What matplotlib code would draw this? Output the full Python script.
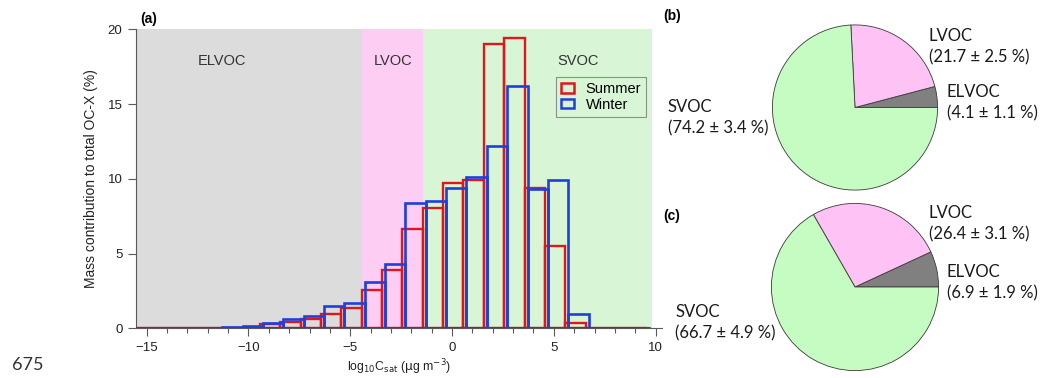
import numpy as np
import matplotlib.pyplot as plt
from matplotlib.patches import Patch

plt.rcParams['font.family'] = ['Liberation Sans', 'DejaVu Sans']

# volatility bins (log10 Csat), one value per bin of width 1
bin_index = np.arange(-16, 10)
summer_offset = 0.06
winter_offset = 0.21
summer_frac = [0, 0, 0, 0, 0, 0, 0.05, 0.27, 0.40, 0.60, 0.95, 1.38, 2.58,
               3.93, 6.62, 8.03, 9.72, 9.94, 19.04, 19.42, 9.39, 5.50, 0.38,
               0, 0, 0]
winter_frac = [0, 0, 0, 0, 0, 0.10, 0.15, 0.35, 0.60, 0.81, 1.46, 1.66, 3.13,
               4.33, 8.36, 8.49, 9.36, 10.10, 12.17, 16.19, 9.32, 9.90, 0.94,
               0, 0, 0]

# volatility class ranges
class_names = ['ELVOC', 'LVOC', 'SVOC']
class_bounds = [-15.6, -4.42, -1.42, 9.84]
class_colors = ['#dcdcdc', '#fdcdf3', '#d8f6d6']
class_label_x = [-11.3, -2.92, 6.2]

# pie fractions (ELVOC, LVOC, SVOC)
pie_names = ['ELVOC', 'LVOC', 'SVOC']
summer_pie = [4.1, 21.7, 74.2]
summer_err = [1.1, 2.5, 3.4]
winter_pie = [6.9, 26.4, 66.7]
winter_err = [1.9, 3.1, 4.9]
pie_colors = ['#808080', '#ffc2f4', '#c4fcc2']

red = '#e0161b'
blue = '#1f3fdc'

W, H = 1043, 378
fig = plt.figure(figsize=(W / 100, H / 100), dpi=100)

axis_gray = '#5a5a5a'
ax = fig.add_axes([135.7 / W, 49.7 / H, 526 / W, 299 / H])
for i, name in enumerate(class_names):
    ax.axvspan(class_bounds[i], class_bounds[i + 1], color=class_colors[i], lw=0, zorder=0)

ax.bar(bin_index + summer_offset, summer_frac, width=1.0, fill=False,
       edgecolor=red, linewidth=1.7, zorder=2)
ax.bar(bin_index + winter_offset, winter_frac, width=1.0, fill=False,
       edgecolor=blue, linewidth=1.9, zorder=3)
# empty bins still show their bottom edge
winter_left = bin_index[0] + winter_offset - 0.5
winter_right = bin_index[-1] + winter_offset + 0.5
ax.hlines(0, winter_left, winter_right, color=blue, lw=2.2, zorder=3, clip_on=True)

ax.set_xlim(-15.54, 10.3)
ax.set_ylim(0, 20)
ax.set_xticks([-15, -10, -5, 0, 5, 10])
ax.set_xticks(np.arange(-15, 11), minor=True)
ax.set_yticks([0, 5, 10, 15, 20])
for s in ['top', 'right']:
    ax.spines[s].set_visible(False)
for s in ['left', 'bottom']:
    ax.spines[s].set_color(axis_gray)
    ax.spines[s].set_linewidth(0.8)
ax.tick_params(axis='both', which='major', length=6, width=0.8, color=axis_gray,
               labelsize=9.5, labelcolor='#222222', direction='out')
ax.tick_params(axis='x', which='minor', length=3.5, width=0.8, color=axis_gray)
ax.tick_params(axis='x', which='major', pad=4)
ax.set_ylabel('Mass contribution to total OC-X (%)', fontsize=10, color='#222222', labelpad=7)
ax.set_xlabel(r'log$_{10}$C$_{\mathrm{sat}}$ ($\mathrm{\mu}$g m$^{-3}$)', fontsize=8.8,
              color='#222222', labelpad=2)

for name, xc in zip(class_names, class_label_x):
    ax.text(xc, 17.9, name, ha='center', va='center', fontsize=10.5, color='#333333')
ax.text(0.008, 1.01, '(a)', transform=ax.transAxes, fontsize=10, fontweight='bold',
        ha='left', va='bottom')

handles = [Patch(facecolor='none', edgecolor=red, lw=1.8, label='Summer'),
           Patch(facecolor='none', edgecolor=blue, lw=1.8, label='Winter')]
leg = ax.legend(handles=handles, loc='upper left', bbox_to_anchor=(0.785, 0.865),
                fontsize=10.5, frameon=True, fancybox=False, handlelength=0.9,
                handleheight=0.6, handletextpad=0.8, borderpad=0.35, labelspacing=0.1)
leg.get_frame().set_edgecolor('#777777')
leg.get_frame().set_facecolor('none')
leg.get_frame().set_linewidth(0.8)


def draw_pie(cx, cy, r, values, errs, tag, label_pos):
    pax = fig.add_axes([(cx - r) / W, (H - cy - r) / H, 2 * r / W, 2 * r / H])
    pax.pie(values, colors=pie_colors, startangle=0, counterclock=True,
            wedgeprops=dict(edgecolor='#3a3a3a', linewidth=0.6))
    pax.set_xlim(-1.005, 1.005)
    pax.set_ylim(-1.005, 1.005)
    pax.set_aspect('equal')
    pax.axis('off')
    for name, v, e in zip(pie_names, values, errs):
        px, py = label_pos[name]
        fig.text(px / W, 1 - py / H, f'{name}\n({v} \u00b1 {e} %)', fontsize=12,
                 family='Lato', color='#1a1a1a', ha='left', va='center', linespacing=1.4)
    fig.text(663 / W, 1 - tag[1] / H, tag[0], fontsize=10, fontweight='bold',
             ha='left', va='center')


draw_pie(855, 107.5, 83, summer_pie, summer_err, ('(b)', 16),
         {'LVOC': (929, 47), 'ELVOC': (947, 103), 'SVOC': (668, 118)})
draw_pie(855, 287, 84, winter_pie, winter_err, ('(c)', 216),
         {'LVOC': (929, 224), 'ELVOC': (947, 283), 'SVOC': (675, 323)})

fig.text(12 / W, 1 - 365 / H, '675', fontsize=13, family='Lato', color='#333333',
         ha='left', va='center')

fig.savefig('out.png', dpi=100)
